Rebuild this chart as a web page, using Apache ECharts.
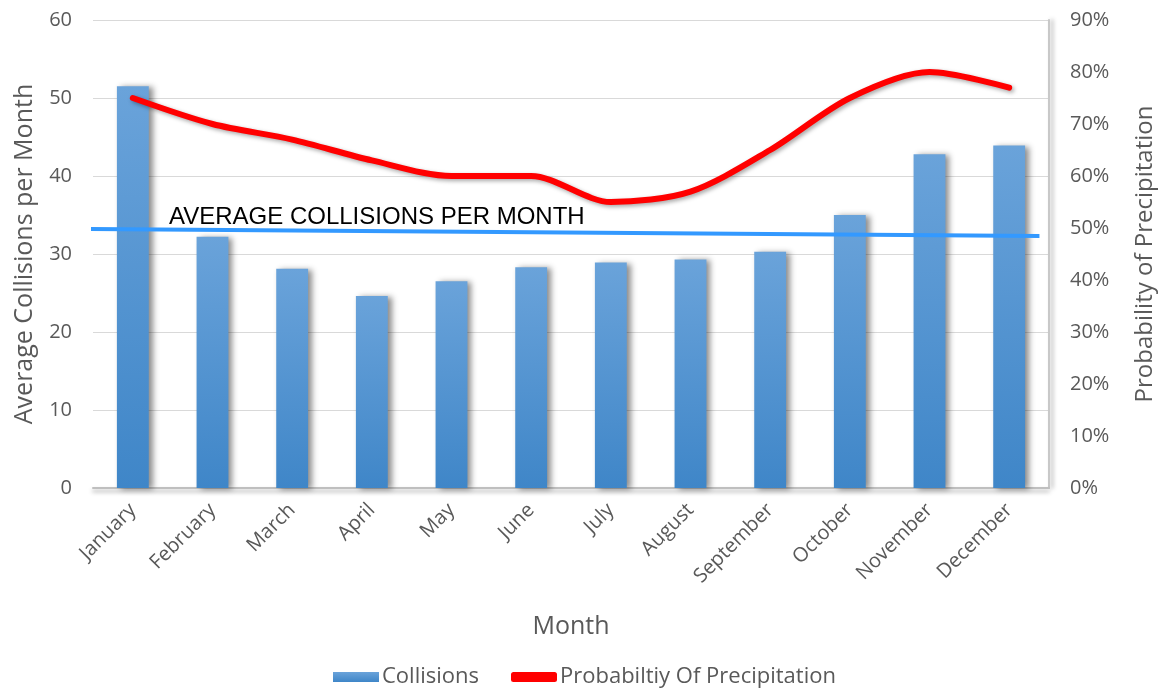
<!DOCTYPE html>
<html>
<head>
<meta charset="utf-8">
<script src="https://cdn.jsdelivr.net/npm/echarts@6/dist/echarts.min.js"></script>
<style>
  html, body { margin: 0; padding: 0; background: #fff; }
  #chart { width: 1165px; height: 689px; }
</style>
</head>
<body>
<div id="chart"></div>
<script>
// data
const months = ["January", "February", "March", "April", "May", "June", "July",
  "August", "September", "October", "November", "December"];
const collisions = [51.5, 32.2, 28.1, 24.6, 26.5, 28.3, 28.9, 29.3, 30.3, 35.0, 42.8, 43.9];
const precipitation = [75, 70, 67, 63, 60, 60, 55, 57, 65, 75, 80, 77];
// hand-drawn average line: [category position, value] at both ends
const avgLine = [[-0.61, 33.2], [11.38, 32.3]];

const gray = "#595959";
const font = "'Open Sans', Lato, sans-serif";

const chart = echarts.init(document.getElementById("chart"));
chart.setOption({
  animation: false,
  textStyle: { fontFamily: font },
  grid: { left: 93, right: 115, top: 20, bottom: 201 },
  legend: {
    bottom: -4,
    left: 328,
    itemGap: 32,
    itemWidth: 46,
    itemHeight: 10,
    textStyle: { color: gray, fontSize: 22, fontFamily: font, padding: [0, 0, 0, -2] },
    data: [
      { name: "Collisions", icon: "rect" },
      { name: "Probabiltiy Of Precipitation", icon: "roundRect", itemStyle: { color: "#ff0000" } }
    ]
  },
  xAxis: [
    {
      type: "category",
      data: months,
      name: "Month",
      nameLocation: "middle",
      nameGap: 126,
      nameTextStyle: { color: gray, fontSize: 25, fontFamily: font },
      axisLine: {
        lineStyle: { color: "#bfbfbf", width: 2, shadowColor: "rgba(0,0,0,0.35)", shadowBlur: 4, shadowOffsetY: 3 }
      },
      axisTick: { show: false },
      axisLabel: { color: gray, fontSize: 20, rotate: 45, margin: 19, interval: 0 }
    },
    {
      type: "value",
      min: -0.5,
      max: 11.5,
      show: false
    }
  ],
  yAxis: [
    {
      type: "value",
      min: 0,
      max: 60,
      interval: 10,
      name: "Average Collisions per Month",
      nameLocation: "middle",
      nameGap: 56,
      nameTextStyle: { color: gray, fontSize: 25, fontFamily: font },
      axisLine: { show: false },
      axisTick: { show: false },
      axisLabel: { color: gray, fontSize: 20, margin: 21 },
      splitLine: { lineStyle: { color: "#d9d9d9", width: 1 } }
    },
    {
      type: "value",
      min: 0,
      max: 90,
      interval: 10,
      name: "Probability of Precipitation",
      nameLocation: "middle",
      nameGap: 84,
      nameRotate: 90,
      nameTextStyle: { color: gray, fontSize: 24, fontFamily: font },
      axisLine: {
        show: true,
        lineStyle: { color: "#c8c8c8", width: 2, shadowColor: "rgba(0,0,0,0.35)", shadowBlur: 4, shadowOffsetX: 3 }
      },
      axisTick: { show: false },
      axisLabel: { color: gray, fontSize: 20, margin: 21, formatter: "{value}%" },
      splitLine: { show: false }
    }
  ],
  series: [
    {
      name: "Collisions",
      type: "bar",
      data: collisions,
      barWidth: "40%",
      itemStyle: {
        color: new echarts.graphic.LinearGradient(0, 0, 0, 1, [
          { offset: 0, color: "#6aa3da" },
          { offset: 1, color: "#3f86c8" }
        ]),
        shadowColor: "rgba(0,0,0,0.45)",
        shadowBlur: 6,
        shadowOffsetX: 4,
        shadowOffsetY: 1
      }
    },
    {
      name: "Probabiltiy Of Precipitation",
      type: "line",
      yAxisIndex: 1,
      data: precipitation,
      smooth: 0.3,
      symbol: "none",
      lineStyle: {
        color: "#ff0000",
        width: 6,
        cap: "round",
        shadowColor: "rgba(0,0,0,0.35)",
        shadowBlur: 4,
        shadowOffsetX: 2,
        shadowOffsetY: 2
      },
      itemStyle: { color: "#ff0000" },
      z: 4
    },
    {
      name: "Average",
      type: "line",
      xAxisIndex: 1,
      data: avgLine,
      clip: false,
      symbol: "none",
      lineStyle: { color: "#3399ff", width: 4 },
      z: 5
    }
  ],
  graphic: [
    {
      type: "text",
      left: 169,
      top: 205,
      z: 10,
      style: {
        text: "AVERAGE COLLISIONS PER MONTH",
        fill: "#000",
        font: "24px 'Liberation Sans', Arial, sans-serif"
      }
    }
  ]
});
</script>
</body>
</html>
